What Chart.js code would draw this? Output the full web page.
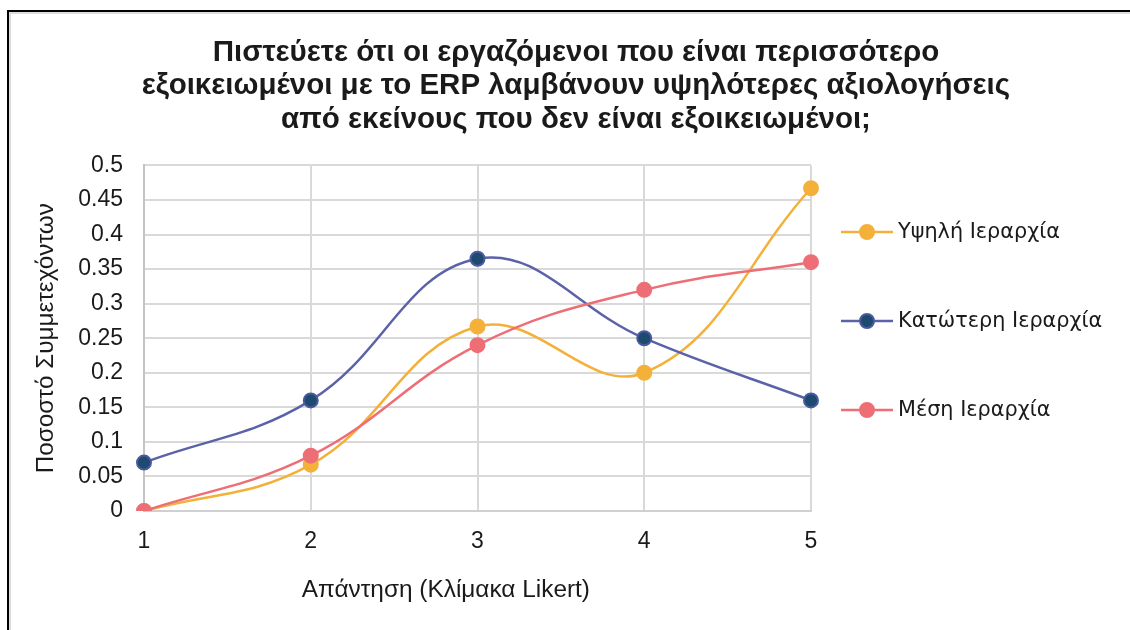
<!DOCTYPE html>
<html>
<head>
<meta charset="utf-8">
<script src="https://cdn.jsdelivr.net/npm/chart.js@4.4.1/dist/chart.umd.min.js"></script>
<style>
    body { margin: 0; background: #fff; }
    #wrap { position: relative; width: 1130px; height: 630px; overflow: hidden; }
    #frame {
        position: absolute; left: 7px; top: 10px; width: 1200px; height: 700px;
        border-left: 2px solid #000; border-top: 2px solid #000;
        box-shadow: inset 2px 2px 0 #dcdcdc; pointer-events: none;
    }
</style>
</head>
<body>
<div id="wrap">
    <canvas id="likertChart" width="1130" height="630"></canvas>
    <div id="frame"></div>
</div>
<script>
const categories = ['1', '2', '3', '4', '5'];
const seriesNames = ['Υψηλή Ιεραρχία', 'Κατώτερη Ιεραρχία', 'Μέση Ιεραρχία'];
const highValues = [0, 0.067, 0.267, 0.2, 0.467];
const lowValues = [0.07, 0.16, 0.365, 0.25, 0.16];
const midValues = [0, 0.08, 0.24, 0.32, 0.36];
const titleLines = [
    'Πιστεύετε ότι οι εργαζόμενοι που είναι περισσότερο',
    'εξοικειωμένοι με το ERP λαμβάνουν υψηλότερες αξιολογήσεις',
    'από εκείνους που δεν είναι εξοικειωμένοι;'
];
const xTitle = 'Απάντηση (Κλίμακα Likert)';
const yTitle = 'Ποσοστό Συμμετεχόντων';

// legend drawn as line + dot, like the spreadsheet original
const sideLegend = {
    id: 'sideLegend',
    afterDraw(chart) {
        const ctx = chart.ctx;
        const area = chart.chartArea;
        const x0 = area.right + 30;
        ctx.save();
        chart.data.datasets.forEach(function(ds, i) {
            const y = 232 + i * 89;
            ctx.strokeStyle = ds.borderColor;
            ctx.lineWidth = 2.5;
            ctx.beginPath();
            ctx.moveTo(x0, y);
            ctx.lineTo(x0 + 52, y);
            ctx.stroke();
            ctx.beginPath();
            ctx.arc(x0 + 26, y, 7, 0, Math.PI * 2);
            ctx.fillStyle = ds.pointBackgroundColor;
            ctx.fill();
            ctx.lineWidth = 2;
            ctx.strokeStyle = ds.pointBorderColor;
            ctx.stroke();
            ctx.fillStyle = '#1a1a1a';
            ctx.font = '20.8px "DejaVu Sans"';
            ctx.textBaseline = 'middle';
            ctx.fillText(ds.label, x0 + 57, y + 1);
        });
        // x axis title sits left of the plot centre in the original
        ctx.font = '24.4px "Liberation Sans"';
        ctx.textAlign = 'center';
        ctx.textBaseline = 'middle';
        ctx.fillStyle = '#1a1a1a';
        ctx.fillText(xTitle, area.left + area.width * 0.4525, 590);
        ctx.restore();
    }
};

const ctx = document.getElementById('likertChart').getContext('2d');
new Chart(ctx, {
    type: 'line',
    data: {
        labels: categories,
        datasets: [{
            label: seriesNames[0],
            data: highValues,
            borderColor: '#F4B13A',
            pointBackgroundColor: '#F4B13A',
            pointBorderColor: '#F4B13A',
            order: 2
        }, {
            label: seriesNames[1],
            data: lowValues,
            borderColor: '#5B62A8',
            pointBackgroundColor: '#1D4A6E',
            pointBorderColor: '#4A5A9E',
            order: 1
        }, {
            label: seriesNames[2],
            data: midValues,
            borderColor: '#EE6E76',
            pointBackgroundColor: '#EE6E76',
            pointBorderColor: '#EE6E76',
            order: 0
        }]
    },
    options: {
        responsive: false,
        animation: false,
        layout: { padding: { left: 22, right: 0, top: 0, bottom: 0 } },
        elements: {
            line: { tension: 0.4, borderWidth: 2.5 },
            point: { radius: 7, borderWidth: 2 }
        },
        plugins: {
            legend: { display: false },
            tooltip: { enabled: false },
            title: {
                display: true,
                text: titleLines,
                color: '#1a1a1a',
                font: { family: 'Liberation Sans', size: 29.5, weight: 'bold', lineHeight: 1.135 },
                padding: { top: 36, bottom: 29 }
            }
        },
        scales: {
            x: {
                offset: false,
                grid: { color: '#d9d9d9', lineWidth: 2, drawTicks: false },
                border: { color: '#d0d0d0', width: 2 },
                ticks: { color: '#1a1a1a', padding: 17, font: { family: 'Liberation Sans', size: 23 } },
                afterFit: function(scale) { scale.height = 119; }
            },
            y: {
                min: 0,
                max: 0.5,
                grid: { color: '#d9d9d9', lineWidth: 2, drawTicks: false },
                border: { color: '#c4c4c4', width: 2 },
                ticks: {
                    stepSize: 0.05,
                    color: '#1a1a1a',
                    padding: 21,
                    font: { family: 'Liberation Sans', size: 23 },
                    callback: function(value) {
                        return String(parseFloat(value.toFixed(2)));
                    }
                },
                title: {
                    display: true,
                    text: yTitle,
                    color: '#1a1a1a',
                    font: { family: 'Liberation Sans', size: 24.3 },
                    padding: { top: 10, bottom: 0 }
                },
                afterFit: function(scale) { scale.width = 122; }
            },
            spacer: {
                position: 'right',
                grid: { display: false },
                border: { display: false },
                ticks: { display: false },
                afterFit: function(scale) { scale.width = 319; }
            }
        }
    },
    plugins: [sideLegend]
});
</script>
</body>
</html>
